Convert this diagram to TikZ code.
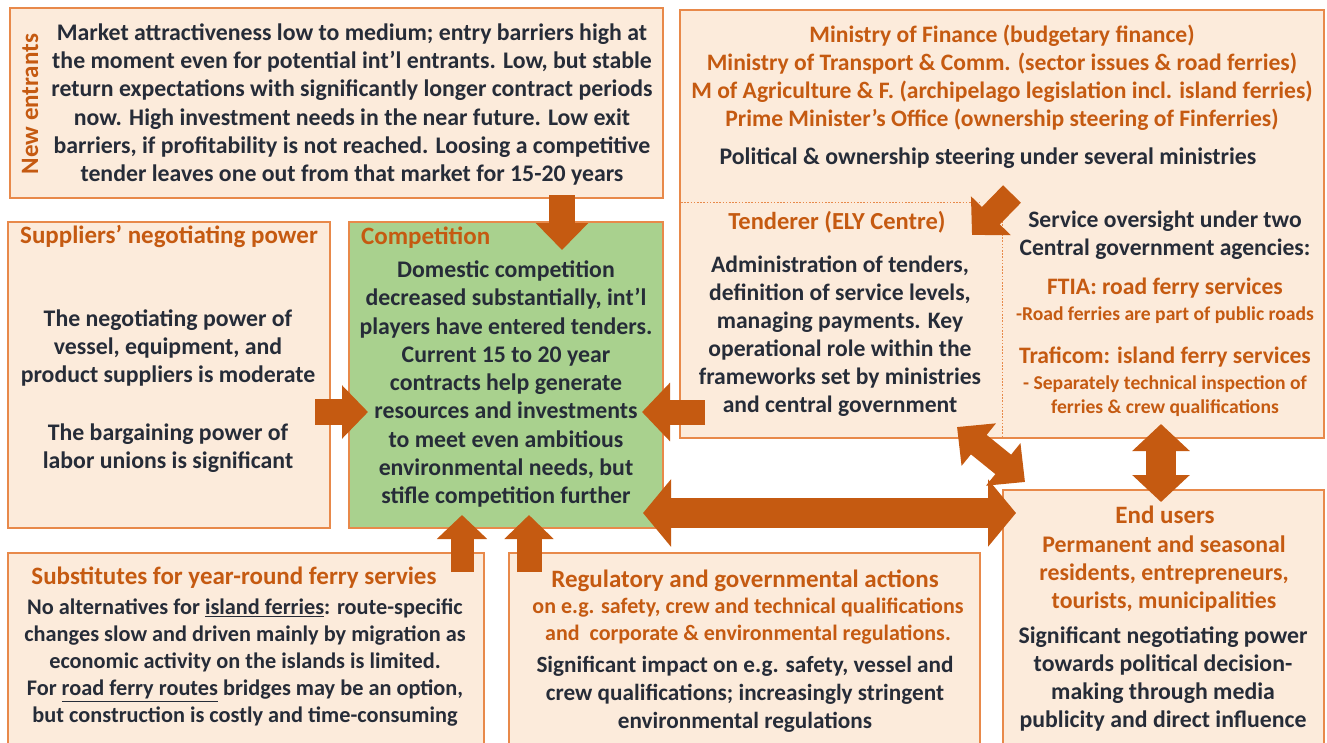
\documentclass[tikz,border=0pt]{standalone}
\usepackage{fontspec}
\setmainfont{Carlito}
\usetikzlibrary{arrows.meta}
\definecolor{peach}{HTML}{FCEBDB}
\definecolor{boxline}{HTML}{E8894A}
\definecolor{rust}{HTML}{C55A11}
\definecolor{ink}{HTML}{262C38}
\definecolor{leaf}{HTML}{A9D18E}
\begin{document}
\begin{tikzpicture}[x=1pt,y=-1pt,
  box/.style={draw=boxline, line width=1.4pt, fill=peach},
  body/.style={font=\bfseries\fontsize{23.8}{28.3}\selectfont, text=ink, align=center, inner sep=0pt},
  head/.style={font=\bfseries\fontsize{25}{28}\selectfont, text=rust, align=center, inner sep=0pt},
  note/.style={font=\bfseries\fontsize{19.6}{24}\selectfont, text=rust, align=center, inner sep=0pt},
  guide/.style={draw=boxline, line width=0.8pt, dash pattern=on 1.6pt off 1.6pt},
  fat/.style={draw=rust, line width=#1},
  fat/.default=26pt,
  tip/.style 2 args={-{Triangle[length=#1,width=#2]}},
  tips/.style 2 args={{Triangle[length=#1,width=#2]}-{Triangle[length=#1,width=#2]}},
]
\clip (0,0) rectangle (1327,742);
\useasboundingbox (0,0) rectangle (1327,742);

% ---------- boxes ----------
\draw[box] (10,8) rectangle (663,198);
\draw[box] (680,10) rectangle (1324,438);
\draw[box] (8,222) rectangle (330,528);
\draw[box, fill=leaf] (349,222) rectangle (663,528);
\draw[box] (8,553) rectangle (484,760);
\draw[box] (509,553) rectangle (980,760);
\draw[box] (1003,490) rectangle (1324,760);

% internal guides of the government box
\draw[guide] (681,202) -- (980,202);
\draw[guide] (1002,202) -- (1002,437);

% ---------- new entrants ----------
\node[head, rotate=90] (netitle) at (30,104) {New entrants};
\node[body] (netext) at (352,104.5) {Market attractiveness low to medium; entry barriers high at\\
the moment even for potential int’l entrants. Low, but stable\\
return expectations with significantly longer contract periods\\
now. High investment needs in the near future. Low exit\\
barriers, if profitability is not reached. Loosing a competitive\\
tender leaves one out from that market for 15-20 years};

% ---------- ministries ----------
\node[head, font=\bfseries\fontsize{23.6}{28}\selectfont] (min) at (1002,78) {Ministry of Finance (budgetary finance)\\
Ministry of Transport \& Comm. (sector issues \& road ferries)\\
M of Agriculture \& F. (archipelago legislation incl. island ferries)\\
Prime Minister’s Office (ownership steering of Finferries)};
\node[body] (pol) at (988,158) {Political \& ownership steering under several ministries};

% ---------- tenderer ----------
\node[head, font=\bfseries\fontsize{24.5}{28}\selectfont] (tentitle) at (837,222) {Tenderer (ELY Centre)};
\node[body, font=\bfseries\fontsize{23.6}{28}\selectfont] (tentext) at (840,336) {Administration of tenders,\\
definition of service levels,\\
managing payments. Key\\
operational role within the\\
frameworks set by ministries\\
and central government};

% ---------- agencies ----------
\node[body, font=\bfseries\fontsize{23.6}{28}\selectfont] (agen) at (1165,235) {Service oversight under two\\Central government agencies:};
\node[head, font=\bfseries\fontsize{23.6}{28}\selectfont] (ftia) at (1165,288) {FTIA: road ferry services};
\node[note] (ftiatext) at (1165,315) {-Road ferries are part of public roads};
\node[head, font=\bfseries\fontsize{23.6}{28}\selectfont] (trafi) at (1165,357) {Traficom: island ferry services};
\node[note] (trafitext) at (1165,396) {- Separately technical inspection of\\ferries \& crew qualifications};

% ---------- suppliers ----------
\node[head] (suptitle) at (169,237) {Suppliers’ negotiating power};
\node[body] (sup1) at (168,348) {The negotiating power of\\vessel, equipment, and\\product suppliers is moderate};
\node[body] (sup2) at (168,448) {The bargaining power of\\labor unions is significant};

% ---------- competition ----------
\node[head, anchor=west] (comptitle) at (361,238) {Competition};
\node[body, font=\bfseries\fontsize{23.8}{28.25}\selectfont] (comptext) at (506,384) {Domestic competition\\
decreased substantially, int’l\\
players have entered tenders.\\
Current 15 to 20 year\\
contracts help generate\\
resources and investments\\
to meet even ambitious\\
environmental needs, but\\
stifle competition further};

% ---------- substitutes ----------
\node[head] (subtitle) at (234,578) {Substitutes for year-round ferry servies};
\node[body, font=\bfseries\fontsize{22.3}{27}\selectfont] (subtext) at (245,663) {No alternatives for \underline{island ferries}: route-specific\\
changes slow and driven mainly by migration as\\
economic activity on the islands is limited.\\
For \underline{road ferry routes} bridges may be an option,\\
but construction is costly and time-consuming};

% ---------- regulation ----------
\node[head] (regtitle) at (745,581) {Regulatory and governmental actions};
\node[note, font=\bfseries\fontsize{22}{27}\selectfont] (regnote) at (748,621) {on e.g. safety, crew and technical qualifications\\and\ \ corporate \& environmental regulations.};
\node[body, font=\bfseries\fontsize{23.2}{28}\selectfont] (regtext) at (745,694) {Significant impact on e.g. safety, vessel and\\crew qualifications; increasingly stringent\\environmental regulations};

% ---------- end users ----------
\node[head] (eutitle) at (1165,515) {End users};
\node[head, font=\bfseries\fontsize{23.8}{28}\selectfont] (eunote) at (1164,574) {Permanent and seasonal\\residents, entrepreneurs,\\tourists, municipalities};
\node[body, font=\bfseries\fontsize{23.8}{28}\selectfont] (eutext) at (1163,679) {Significant negotiating power\\towards political decision-\\making through media\\publicity and direct influence};

% ---------- block arrows ----------
\coordinate (aNE) at (562,195);  \coordinate (aNEc) at (562,250);
\coordinate (aSU) at (315,412);  \coordinate (aSUc) at (368,412);
\coordinate (aTE) at (705,412);  \coordinate (aTEc) at (642,412);
\coordinate (aMI) at (1012,194); \coordinate (aMIt) at (972,235);
\coordinate (aTU) at (957,427);  \coordinate (aEUt) at (1025,482);
\coordinate (aAG) at (1161,424); \coordinate (aEUa) at (1161,502);
\coordinate (aCO) at (643,513);  \coordinate (aEUc) at (1016,513);
\coordinate (aS1) at (462,572);  \coordinate (aS1c) at (462,515);
\coordinate (aR1) at (529,572);  \coordinate (aR1c) at (529,515);

\draw[fat, tip={27pt}{51pt}] (aNE) -- (aNEc);
\draw[fat, tip={26pt}{52pt}] (aSU) -- (aSUc);
\draw[fat=25pt, tip={28pt}{57pt}] (aTE) -- (aTEc);
\draw[fat=25pt, tip={27pt}{54pt}] (aMI) -- (aMIt);
\draw[fat=25pt, tips={28pt}{53pt}] (aTU) -- (aEUt);
\draw[fat=30pt, tips={27pt}{56pt}] (aAG) -- (aEUa);
\draw[fat=30pt, tips={28pt}{66pt}] (aCO) -- (aEUc);
\draw[fat=23pt, tip={24pt}{49pt}] (aS1) -- (aS1c);
\draw[fat=25pt, tip={24pt}{48pt}] (aR1) -- (aR1c);
\end{tikzpicture}
\end{document}
